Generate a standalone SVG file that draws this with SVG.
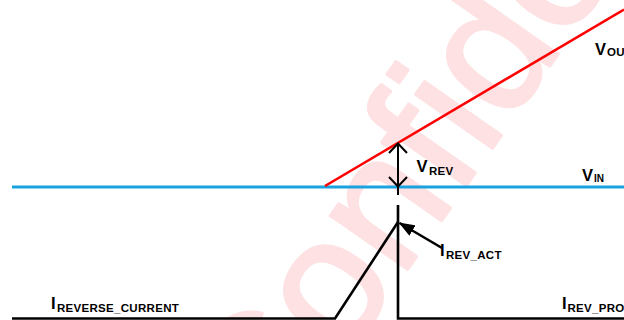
<svg xmlns="http://www.w3.org/2000/svg" width="624" height="320" viewBox="0 0 624 320">
  <defs>
    <style>
      .wm { font-family: "Liberation Sans", Arial, sans-serif; font-size: 178px; fill: #fde1e3; stroke: #fde1e3; stroke-width: 3; stroke-linejoin: round; }
      .lbl { font-family: "Liberation Sans", Arial, sans-serif; font-weight: bold; fill: #000; }
      .big { font-size: 16.5px; }
      .sub { font-size: 11.5px; letter-spacing: 0.3px; }
      .blk { stroke: #000; fill: none; stroke-width: 2.6; stroke-linejoin: miter; }
      .thin { stroke: #000; fill: none; stroke-width: 2; }
    </style>
    <marker id="filled" viewBox="0 0 16 12" refX="15" refY="6" markerWidth="16" markerHeight="12" markerUnits="userSpaceOnUse" orient="auto">
      <path d="M0,0 L16,6 L0,12 Z" fill="#000"/>
    </marker>
  </defs>
  <rect width="624" height="320" fill="#fff"/>

  <g id="watermark">
    <text class="wm" transform="translate(270,466) rotate(-55)">Confidential</text>
  </g>

  <g id="traces">
    <line id="vin" x1="12" y1="187" x2="624" y2="187" stroke="#18a2df" stroke-width="2.8"/>
    <line id="vout" x1="325" y1="186" x2="624" y2="9.5" stroke="#ff0000" stroke-width="2.6"/>
    <polyline id="icurrent" class="blk" points="12,318.5 335,318.5 398,222"/>
    <polyline class="blk" points="398,205 398,318.5 624,318.5"/>
  </g>

  <g id="connectors">
    <g id="vrev-arrow">
      <line class="thin" x1="398" y1="143.5" x2="398" y2="195"/>
      <polyline class="thin" points="389,153 398,143.5 407,153"/>
      <polyline class="thin" points="389,177 398,186.5 407,177"/>
    </g>
    <line id="irevact-arrow" x1="442" y1="248" x2="399.5" y2="223" stroke="#000" stroke-width="2.6" marker-end="url(#filled)"/>
  </g>

  <g id="labels">
    <g id="label-vout">
      <text class="lbl big" x="595" y="54.5">V</text>
      <text class="lbl sub" x="607" y="55.5">OU</text>
    </g>
    <g id="label-vrev">
      <text class="lbl big" x="416.5" y="172">V</text>
      <text class="lbl sub" x="429" y="175">REV</text>
    </g>
    <g id="label-vin">
      <text class="lbl big" x="582" y="181">V</text>
      <text class="lbl" style="font-size:10px" x="594" y="182">IN</text>
    </g>
    <g id="label-irevact">
      <text class="lbl big" x="440" y="256">I</text>
      <text class="lbl sub" x="446" y="259">REV_ACT</text>
    </g>
    <g id="label-ireverse">
      <text class="lbl big" x="51" y="308.5">I</text>
      <text class="lbl sub" x="57" y="311.5">REVERSE_CURRENT</text>
    </g>
    <g id="label-irevpro">
      <text class="lbl big" x="562" y="308.5">I</text>
      <text class="lbl sub" x="567.5" y="311.5">REV_PRO</text>
    </g>
  </g>
</svg>
